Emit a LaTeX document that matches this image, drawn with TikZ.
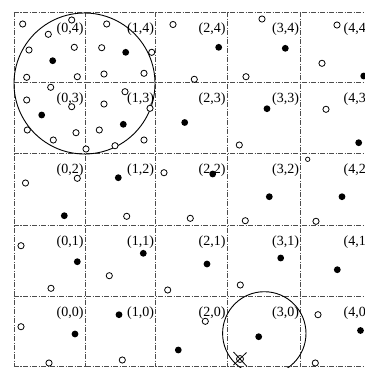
\documentclass[tikz,border=0pt]{standalone}
\usepackage{fontspec}
\setmainfont{Liberation Serif}
\begin{document}
\begin{tikzpicture}[x=1pt,y=-1pt,
  gridline/.style={line width=0.8pt, black!70, dash pattern=on 5pt off 1.5pt on 1pt off 1.5pt},
  lbl/.style={anchor=east, inner sep=0.3pt, font=\fontsize{14}{14}\selectfont},
  ring/.style={line width=0.9pt},
  opendot/.style={line width=0.8pt, fill=white},
  ]
\useasboundingbox (0,0) rectangle (365,368);
\clip (0,0) rectangle (365,368);
\fill[white] (0,0) rectangle (365,368);
% grid
\foreach \x in {14,85,155.5,227,300.5,372} \draw[gridline] (\x,12) -- (\x,366.5);
\foreach \y in {12,82,153,225,296,366.5} \draw[gridline] (14,\y) -- (372,\y);
% cell labels
\foreach \i/\xr in {0/85,1/155.5,2/227,3/300.5,4/372}
  \foreach \j/\yt in {4/12,3/82,2/153,1/225,0/296}
    \node[lbl] (l\i\j) at ({\xr-1},{\yt+17}) {(\i,\j)};
% circles
\draw[ring] (84.5,83.5) circle (70.5pt);
\draw[ring] (264.3,333.4) circle (41.7pt);
% open points
\foreach \p in {(22.7,24),(48.3,34.3),(71.7,20),(106.7,24),(29,50),(74.3,47.3),(101.7,47.7),(151.7,52.3),
  (26.7,77.3),(77.3,76.7),(104,74),(144,73.3),(50.7,87.3),(125,91.7),(26.7,100),(71.7,106.7),(104,104),
  (150,108.3),(27.3,130),(76,132.7),(99.3,130),(53.3,140),(144,140),(86,149),(115,145.7),(173,24.5),
  (164,172.7),(77.3,178.3),(25.5,183),
  (262,19),(337,25),(322,63.3),(194.3,79.3),(246,76.7),(326,109.3),(239.3,145),
  (126.7,216.3),(21,245.7),(109.3,275.7),(51,288.3),(167.7,290),(21,326.7),(49,363),(122.3,360),
  (190.3,218.3),(245.3,220.7),(316,221.3),(240.3,285),(318,314.7),(205.3,321.3),(315.3,363)}
  \draw[opendot] \p circle (3.1pt);
\draw[line width=0.7pt, fill=white] (307.7,159.3) circle (2.2pt);
% filled points
\foreach \p in {(52.7,60.7),(125.7,52.3),(41.7,115),(123.3,124.3),(184.7,122.5),(118.3,177.7),
  (218.7,47.3),(285.3,48.3),(363.7,76),(267,108.7),(358.7,142.7),(212.7,174),
  (64.3,215.7),(77.3,261.7),(143.3,253.3),(75,334),(119,314.7),(178.3,350),
  (269.3,196.7),(342,196.7),(207,264),(280.7,258),(337.3,269.7),(258.7,336.7),(360.5,330.5)}
  \fill \p circle (3.4pt);
% crossed point
\draw[opendot] (240,359) circle (3.5pt);
\draw[line width=0.8pt] (233.5,352) -- (247,366.5) (233.5,365) -- (246.5,352.5);
\end{tikzpicture}
\end{document}
